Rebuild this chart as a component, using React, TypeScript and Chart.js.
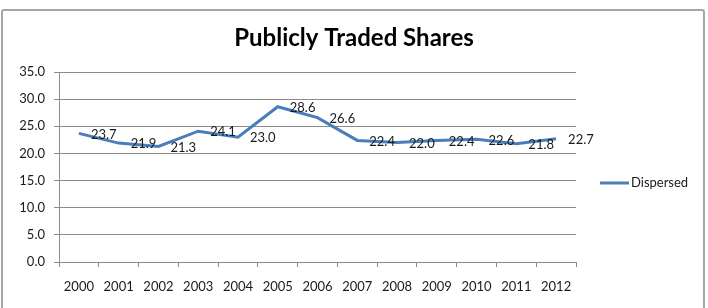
import React, { useEffect, useRef } from "react";
import { Chart, registerables } from "chart.js";

Chart.register(...registerables);

const years = ["2000", "2001", "2002", "2003", "2004", "2005", "2006", "2007", "2008", "2009", "2010", "2011", "2012"];
const dispersed = [23.7, 21.9, 21.3, 24.1, 23.0, 28.6, 26.6, 22.4, 22.0, 22.4, 22.6, 21.8, 22.7];
const seriesName = "Dispersed";
const chartTitle = "Publicly Traded Shares";
const yMin = 0;
const yMax = 35;
const yStep = 5;

const FONT = "Lato, 'Open Sans', sans-serif";
const LINE_COLOR = "#4a7ebb";
const GRID_COLOR = "#8c8c8c";
const TEXT_COLOR = "#1a1a1a";

// Draws the title, the value labels beside each point, and the legend entry.
const annotations = {
  id: "annotations",
  afterDatasetsDraw(chart: any) {
    const ctx = chart.ctx;
    const meta = chart.getDatasetMeta(0);
    const data = chart.data.datasets[0].data as number[];
    ctx.save();
    ctx.font = `13px ${FONT}`;
    ctx.fillStyle = TEXT_COLOR;
    ctx.textAlign = "left";
    ctx.textBaseline = "middle";
    meta.data.forEach((pt: any, i: number) => {
      ctx.fillText(data[i].toFixed(1), pt.x + 12, pt.y + 1);
    });
    ctx.restore();
  },
  afterDraw(chart: any) {
    const ctx = chart.ctx;
    ctx.save();
    // title
    ctx.font = `bold 24px ${FONT}`;
    ctx.fillStyle = "#000";
    ctx.textAlign = "center";
    ctx.textBaseline = "alphabetic";
    ctx.fillText(chartTitle, 354, 46);
    // legend
    const area = chart.chartArea;
    const lx = area.right + 24;
    const ly = 183;
    ctx.strokeStyle = LINE_COLOR;
    ctx.lineWidth = 3;
    ctx.beginPath();
    ctx.moveTo(lx, ly);
    ctx.lineTo(lx + 29, ly);
    ctx.stroke();
    ctx.font = `13px ${FONT}`;
    ctx.fillStyle = TEXT_COLOR;
    ctx.textAlign = "left";
    ctx.textBaseline = "middle";
    ctx.fillText(seriesName, lx + 31, ly);
    ctx.restore();
  },
};

export default function App() {
  const canvasRef = useRef<HTMLCanvasElement | null>(null);

  useEffect(() => {
    if (!canvasRef.current) return;
    const chart = new Chart(canvasRef.current, {
      type: "line",
      data: {
        labels: years,
        datasets: [
          {
            label: seriesName,
            data: dispersed,
            borderColor: LINE_COLOR,
            backgroundColor: LINE_COLOR,
            borderWidth: 3,
            pointRadius: 0,
            tension: 0,
            fill: false,
          },
        ],
      },
      options: {
        animation: false,
        responsive: false,
        maintainAspectRatio: false,
        layout: { padding: { top: 72, right: 132, left: 0, bottom: 0 } },
        plugins: {
          legend: { display: false },
          title: { display: false },
          tooltip: { enabled: false },
        },
        scales: {
          x: {
            type: "category",
            offset: true,
            grid: {
              offset: true,
              drawOnChartArea: false,
              drawTicks: true,
              tickLength: 5,
              color: GRID_COLOR,
            },
            border: { color: GRID_COLOR, width: 1 },
            ticks: {
              color: TEXT_COLOR,
              font: { family: FONT, size: 13 },
              padding: 12,
              maxRotation: 0,
              autoSkip: false,
            },
            afterFit: (scale: any) => {
              scale.height = 46;
            },
          },
          y: {
            min: yMin,
            max: yMax,
            ticks: {
              stepSize: yStep,
              color: TEXT_COLOR,
              font: { family: FONT, size: 13 },
              padding: 9,
              callback: (v: any) => Number(v).toFixed(1),
            },
            grid: { color: GRID_COLOR, tickLength: 5, drawTicks: true },
            border: { color: GRID_COLOR, width: 1 },
            afterFit: (scale: any) => {
              scale.width = 59;
            },
          },
        },
      },
      plugins: [annotations],
    });
    return () => chart.destroy();
  }, []);

  return (
    <div style={{ position: "fixed", left: 0, top: 0, width: 708, height: 308, background: "#fff" }}>
      <canvas ref={canvasRef} width={708} height={308} style={{ display: "block" }} />
      <div
        style={{
          position: "absolute",
          left: 1,
          top: 9,
          width: 700,
          height: 320,
          border: "2px solid #a6a6a6",
          borderRadius: 3,
          pointerEvents: "none",
        }}
      />
    </div>
  );
}
